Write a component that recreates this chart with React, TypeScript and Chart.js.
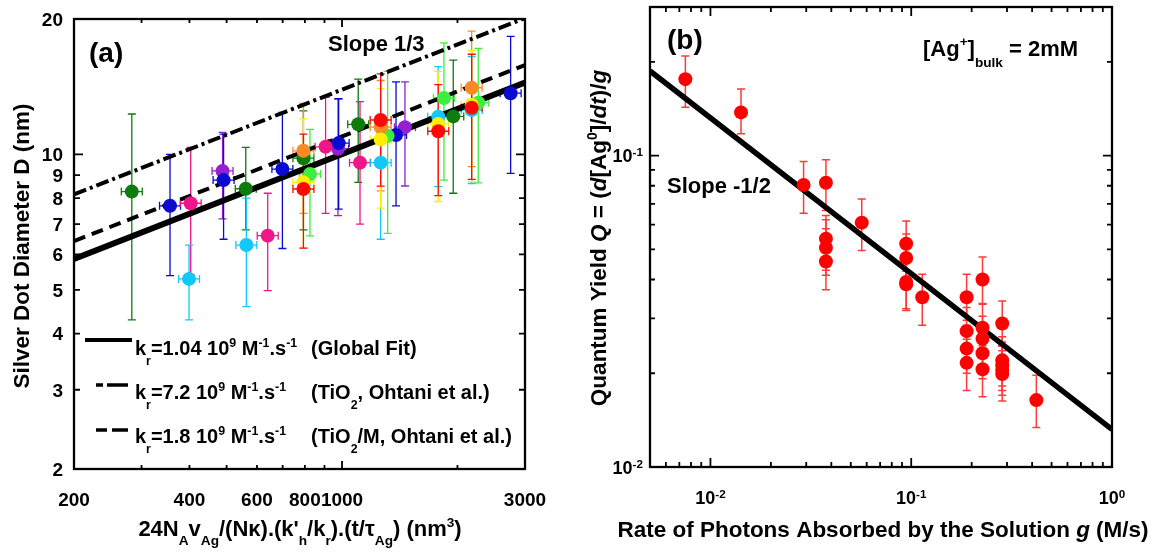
import React, { useEffect, useRef } from 'react';
import Chart from 'chart.js/auto';

// ---------------- Panel (a) data ----------------
const aXTicks = [200, 300, 400, 500, 600, 700, 800, 900, 1000, 2000, 3000];
const aXTickLabels = ['200', '', '400', '', '600', '', '800', '', '1000', '', '3000'];
const aXMajor = [1000];
const aYTicks = [2, 3, 4, 5, 6, 7, 8, 9, 10, 20];
const aYTickLabels = ['2', '3', '4', '5', '6', '7', '8', '9', '10', '20'];
const aYMajor = [10];

const aLineX = [200, 3000];
const aFitGlobal = [5.86, 14.45];
const aFitOhtani = [8.15, 20.1];
const aFitOhtaniM = [6.42, 15.8];

const aRedX = [793, 1261, 1782, 2178];
const aRedY = [8.38, 11.93, 11.26, 12.7];
const aRedLo = [6.19, 8.5, 8.1, 8.8];
const aRedHi = [11.1, 15.1, 14.3, 16.7];

const aYellowX = [793, 1261, 1782, 2178];
const aYellowY = [8.67, 10.8, 11.69, 12.88];
const aYellowLo = [6.2, 7.6, 7.86, 8.7];
const aYellowHi = [12.0, 14.0, 15.3, 17.0];

const aOrangeX = [793, 1261, 2178];
const aOrangeY = [10.19, 11.5, 14.07];
const aOrangeLo = [7.4, 8.3, 9.4];
const aOrangeHi = [12.99, 14.6, 18.8];

const aLightGreenX = [825, 1315, 1844, 2266];
const aLightGreenY = [9.05, 11.0, 13.35, 13.03];
const aLightGreenLo = [6.59, 6.68, 8.77, 8.65];
const aLightGreenHi = [11.37, 15.3, 17.7, 17.2];

const aCyanX = [399, 563, 1261, 1782, 2178];
const aCyanY = [5.29, 6.29, 9.59, 12.13, 12.55];
const aCyanLo = [4.29, 4.59, 6.48, 8.48, 8.62];
const aCyanHi = [6.29, 8.0, 12.2, 15.67, 16.5];

const aPinkX = [403, 640, 906, 1114];
const aPinkY = [7.79, 6.6, 10.4, 9.59];
const aPinkLo = [5.4, 4.98, 7.4, 7.0];
const aPinkHi = [10.37, 8.2, 13.4, 13.1];

const aBlueX = [356, 491, 699, 980, 1383, 2752];
const aBlueY = [7.69, 8.77, 9.28, 10.6, 11.05, 13.68];
const aBlueLo = [5.38, 6.48, 6.18, 7.56, 7.69, 9.08];
const aBlueHi = [10.0, 11.1, 12.4, 13.3, 14.5, 18.3];

const aPurpleX = [488, 976, 1459];
const aPurpleY = [9.19, 10.3, 11.5];
const aPurpleLo = [7.19, 7.31, 8.51];
const aPurpleHi = [11.2, 13.3, 14.5];

const aDarkGreenX = [283, 561, 793, 1102, 1950];
const aDarkGreenY = [8.27, 8.39, 9.81, 11.67, 12.15];
const aDarkGreenLo = [4.29, 6.8, 6.8, 8.67, 8.2];
const aDarkGreenHi = [12.3, 10.37, 12.5, 14.7, 16.2];

const aXErrFrac = 0.065;

// ---------------- Panel (b) data ----------------
const bXTicks = [0.005, 0.006, 0.007, 0.008, 0.009, 0.01, 0.02, 0.03, 0.04, 0.05, 0.06, 0.07, 0.08, 0.09, 0.1,
  0.2, 0.3, 0.4, 0.5, 0.6, 0.7, 0.8, 0.9, 1];
const bXMajor = [0.01, 0.1, 1];
const bXMajorExp = ['-2', '-1', '0'];
const bYTicks = [0.01, 0.02, 0.03, 0.04, 0.05, 0.06, 0.07, 0.08, 0.09, 0.1, 0.2, 0.3];
const bYMajor = [0.01, 0.1];
const bYMajorExp = ['-2', '-1'];

const bLineG = [0.005, 1];
const bLineQ = [0.187, 0.0132];

const bG = [0.0075, 0.0142, 0.0291, 0.0376, 0.0376, 0.0376, 0.0376, 0.0567, 0.0944, 0.0944, 0.0944, 0.0944,
  0.1135, 0.1888, 0.1888, 0.1888, 0.1888, 0.2265, 0.2265, 0.2265, 0.2265, 0.2265, 0.284, 0.284, 0.284, 0.284,
  0.284, 0.42];
const bQ = [0.176, 0.1376, 0.0805, 0.0818, 0.0541, 0.0506, 0.0457, 0.0609, 0.0521, 0.0469, 0.0393, 0.0386,
  0.0351, 0.0351, 0.0273, 0.024, 0.0216, 0.04, 0.028, 0.0258, 0.0232, 0.0206, 0.0289, 0.022, 0.0212, 0.0205,
  0.0199, 0.0164];
const bQHi = [0.209, 0.1636, 0.0957, 0.0969, 0.0642, 0.0622, 0.0582, 0.0726, 0.0616, 0.056, 0.047, 0.046,
  0.0416, 0.0416, 0.0325, 0.0285, 0.0257, 0.0472, 0.0335, 0.0305, 0.0276, 0.0245, 0.0341, 0.0262, 0.0252,
  0.0244, 0.0236, 0.0197];
const bQLo = [0.143, 0.1176, 0.0653, 0.0666, 0.0428, 0.0413, 0.0371, 0.0496, 0.0425, 0.0385, 0.0322, 0.0318,
  0.0285, 0.0296, 0.0232, 0.02, 0.0176, 0.0333, 0.0232, 0.0213, 0.0192, 0.0168, 0.0245, 0.0182, 0.0176,
  0.017, 0.0163, 0.0134];

// ---------------- text helpers ----------------
const FONT = '"Liberation Sans", Arial, Helvetica, sans-serif';
type Seg = { t: string; s?: 'sub' | 'sup'; i?: boolean };
type RichOpt = { small?: number; subDy?: number; supDy?: number };

function segFont(size: number, seg: Seg, o: RichOpt) {
  const sz = seg.s ? size * (o.small ?? 0.62) : size;
  return `${seg.i ? 'italic ' : ''}bold ${sz}px ${FONT}`;
}
function richWidth(ctx: any, segs: Seg[], size: number, o: RichOpt = {}) {
  let w = 0;
  for (const sg of segs) {
    ctx.font = segFont(size, sg, o);
    w += ctx.measureText(sg.t).width;
  }
  return w;
}
function drawRich(ctx: any, segs: Seg[], x: number, y: number, size: number, align = 'left', o: RichOpt = {}) {
  const w = richWidth(ctx, segs, size, o);
  let cx = align === 'center' ? x - w / 2 : align === 'right' ? x - w : x;
  ctx.textAlign = 'left';
  ctx.textBaseline = 'alphabetic';
  ctx.fillStyle = '#000';
  for (const sg of segs) {
    ctx.font = segFont(size, sg, o);
    const dy = sg.s === 'sup' ? -size * (o.supDy ?? 0.42) : sg.s === 'sub' ? size * (o.subDy ?? 0.45) : 0;
    ctx.fillText(sg.t, cx, y + dy);
    cx += ctx.measureText(sg.t).width;
  }
}
function drawRotated(ctx: any, segs: Seg[], cx: number, cy: number, size: number, o: RichOpt = {}) {
  ctx.save();
  ctx.translate(cx, cy);
  ctx.rotate(-Math.PI / 2);
  drawRich(ctx, segs, 0, size * 0.36, size, 'center', o);
  ctx.restore();
}

function drawFrame(chart: any, xTicks: number[], xMajor: number[], yTicks: number[], yMajor: number[],
  xLen: number[], yLen: number[]) {
  const { ctx, chartArea: a } = chart;
  const xs = chart.scales.x, ys = chart.scales.y;
  ctx.save();
  ctx.strokeStyle = '#000';
  ctx.lineWidth = 1.8;
  ctx.beginPath();
  for (const v of xTicks) {
    const p = xs.getPixelForValue(v);
    const l = xMajor.includes(v) ? xLen[0] : xLen[1];
    ctx.moveTo(p, a.bottom); ctx.lineTo(p, a.bottom - l);
    ctx.moveTo(p, a.top); ctx.lineTo(p, a.top + l);
  }
  for (const v of yTicks) {
    const p = ys.getPixelForValue(v);
    const l = yMajor.includes(v) ? yLen[0] : yLen[1];
    ctx.moveTo(a.left, p); ctx.lineTo(a.left + l, p);
    ctx.moveTo(a.right, p); ctx.lineTo(a.right - l, p);
  }
  ctx.stroke();
  ctx.lineWidth = 2.3;
  ctx.strokeRect(a.left, a.top, a.right - a.left, a.bottom - a.top);
  ctx.restore();
}

const errorBars = {
  id: 'errorBars',
  beforeDatasetsDraw(chart: any) {
    const { ctx } = chart;
    const xs = chart.scales.x, ys = chart.scales.y;
    const sets = chart.data.datasets as any[];
    ctx.save();
    for (let d = sets.length - 1; d >= 0; d--) {
      const ds = sets[d];
      if (!ds.errLo) continue;
      ctx.strokeStyle = ds.errColor;
      ctx.lineWidth = ds.errWidth;
      ds.data.forEach((pt: any, i: number) => {
        const px = xs.getPixelForValue(pt.x);
        const py = ys.getPixelForValue(pt.y);
        const lo = ys.getPixelForValue(ds.errLo[i]);
        const hi = ys.getPixelForValue(ds.errHi[i]);
        const c = ds.errCap;
        ctx.beginPath();
        ctx.moveTo(px, lo); ctx.lineTo(px, hi);
        ctx.moveTo(px - c, lo); ctx.lineTo(px + c, lo);
        ctx.moveTo(px - c, hi); ctx.lineTo(px + c, hi);
        if (ds.xErrFrac) {
          const xl = xs.getPixelForValue(pt.x / (1 + ds.xErrFrac));
          const xr = xs.getPixelForValue(pt.x * (1 + ds.xErrFrac));
          ctx.moveTo(xl, py); ctx.lineTo(xr, py);
          ctx.moveTo(xl, py - c); ctx.lineTo(xl, py + c);
          ctx.moveTo(xr, py - c); ctx.lineTo(xr, py + c);
        }
        ctx.stroke();
      });
    }
    ctx.restore();
  },
};

// ---------------- chart builders ----------------
function pts(xs: number[], ys: number[]) {
  return xs.map((x, i) => ({ x, y: ys[i] }));
}

function makeChartA(canvas: HTMLCanvasElement) {
  const series = [
    { x: aRedX, y: aRedY, lo: aRedLo, hi: aRedHi, color: '#ff0808' },
    { x: aYellowX, y: aYellowY, lo: aYellowLo, hi: aYellowHi, color: '#ffee00' },
    { x: aOrangeX, y: aOrangeY, lo: aOrangeLo, hi: aOrangeHi, color: '#fb8a26' },
    { x: aLightGreenX, y: aLightGreenY, lo: aLightGreenLo, hi: aLightGreenHi, color: '#3cef3c' },
    { x: aCyanX, y: aCyanY, lo: aCyanLo, hi: aCyanHi, color: '#12c8f8' },
    { x: aPinkX, y: aPinkY, lo: aPinkLo, hi: aPinkHi, color: '#f01689' },
    { x: aBlueX, y: aBlueY, lo: aBlueLo, hi: aBlueHi, color: '#0a0ad0' },
    { x: aPurpleX, y: aPurpleY, lo: aPurpleLo, hi: aPurpleHi, color: '#9420d2' },
    { x: aDarkGreenX, y: aDarkGreenY, lo: aDarkGreenLo, hi: aDarkGreenHi, color: '#0c7c0c' },
  ];
  const pointSets = series.map((s, k) => ({
    data: pts(s.x, s.y),
    showLine: false,
    pointRadius: 7,
    pointHoverRadius: 7,
    pointBackgroundColor: s.color,
    pointBorderWidth: 0,
    borderColor: s.color,
    errLo: s.lo, errHi: s.hi, errColor: s.color, errWidth: 1.3, errCap: 4, xErrFrac: aXErrFrac,
    order: k,
  }));
  const lineBase = { showLine: true, pointRadius: 0, borderColor: '#000', fill: false, clip: 0, borderCapStyle: 'butt' };
  const lineSets = [
    { ...lineBase, data: pts(aLineX, aFitGlobal), borderWidth: 6, order: 20 },
    { ...lineBase, data: pts(aLineX, aFitOhtani), borderWidth: 4, borderDash: [13, 4, 3, 4], order: 21 },
    { ...lineBase, data: pts(aLineX, aFitOhtaniM), borderWidth: 4, borderDash: [12, 7], order: 22 },
  ];

  const decor = {
    id: 'decorA',
    afterDraw(chart: any) {
      const { ctx } = chart;
      const xs = chart.scales.x, ys = chart.scales.y;
      drawFrame(chart, aXTicks, aXMajor, aYTicks, aYMajor, [8, 4], [9, 6]);
      // tick labels
      aXTicks.forEach((v, i) => {
        if (aXTickLabels[i]) drawRich(ctx, [{ t: aXTickLabels[i] }], xs.getPixelForValue(v), 505.5, 19, 'center');
      });
      aYTicks.forEach((v, i) => {
        drawRich(ctx, [{ t: aYTickLabels[i] }], 63, ys.getPixelForValue(v) + 6.8, 19, 'right');
      });
      // axis titles
      drawRich(ctx, [{ t: '24N' }, { t: 'A', s: 'sub' }, { t: 'v' }, { t: 'Ag', s: 'sub' }, { t: '/(Nκ).(k\'' },
        { t: 'h', s: 'sub' }, { t: '/k' }, { t: 'r', s: 'sub' }, { t: ').(t/τ' }, { t: 'Ag', s: 'sub' },
        { t: ') (nm' }, { t: '3', s: 'sup' }, { t: ')' }], 300, 536, 22, 'center', { subDy: 0.4 });
      drawRotated(ctx, [{ t: 'Silver Dot Diameter D (nm)' }], 21, 246, 22.5);
      // annotations
      drawRich(ctx, [{ t: '(a)' }], 89, 61.5, 28, 'left');
      drawRich(ctx, [{ t: 'Slope 1/3' }], 328, 51, 22, 'left');
      // legend
      ctx.save();
      ctx.strokeStyle = '#000';
      ctx.lineCap = 'butt';
      ctx.lineWidth = 4;
      ctx.beginPath(); ctx.moveTo(85, 340); ctx.lineTo(132, 340); ctx.stroke();
      ctx.lineWidth = 3.5;
      ctx.beginPath();
      ctx.moveTo(96, 385); ctx.lineTo(103, 385);
      ctx.moveTo(107, 385); ctx.lineTo(128, 385);
      ctx.moveTo(96, 430); ctx.lineTo(107, 430);
      ctx.moveTo(112, 430); ctx.lineTo(128, 430);
      ctx.stroke();
      ctx.restore();
      const lo: RichOpt = { subDy: 0.5, supDy: 0.4 };
      const kPart = (val: string): Seg[] => [{ t: 'k' }, { t: 'r', s: 'sub' }, { t: '=' + val + ' 10' }, { t: '9', s: 'sup' },
        { t: ' M' }, { t: '-1', s: 'sup' }, { t: '.s' }, { t: '-1', s: 'sup' }];
      drawRich(ctx, kPart('1.04'), 135, 355, 20, 'left', lo);
      drawRich(ctx, [{ t: '(Global Fit)' }], 311, 355, 20, 'left', lo);
      drawRich(ctx, kPart('7.2'), 135, 399, 20, 'left', lo);
      drawRich(ctx, [{ t: '(TiO' }, { t: '2', s: 'sub' }, { t: ', Ohtani et al.)' }], 311, 399, 20, 'left', lo);
      drawRich(ctx, kPart('1.8'), 135, 443, 20, 'left', lo);
      drawRich(ctx, [{ t: '(TiO' }, { t: '2', s: 'sub' }, { t: '/M, Ohtani et al.)' }], 311, 443, 20, 'left', lo);
    },
  };

  return new Chart(canvas, {
    type: 'scatter',
    data: { datasets: [...pointSets, ...lineSets] as any },
    options: {
      animation: false,
      responsive: false,
      events: [],
      layout: { padding: { left: 74, top: 19, right: 53, bottom: 84 } },
      scales: {
        x: { type: 'logarithmic', min: 200, max: 3000, display: false },
        y: { type: 'logarithmic', min: 2, max: 20, display: false },
      },
      plugins: { legend: { display: false }, tooltip: { enabled: false } },
    } as any,
    plugins: [errorBars, decor],
  });
}

function makeChartB(canvas: HTMLCanvasElement) {
  const OFF = 578;
  const pointSet = {
    data: pts(bG, bQ),
    showLine: false,
    pointRadius: 7,
    pointHoverRadius: 7,
    pointBackgroundColor: '#ff0000',
    pointBorderWidth: 0,
    borderColor: '#ff0000',
    errLo: bQLo, errHi: bQHi, errColor: '#ff3a3a', errWidth: 1.5, errCap: 4,
    order: 0,
  };
  const lineSet = {
    data: pts(bLineG, bLineQ), showLine: true, pointRadius: 0, borderColor: '#000', borderWidth: 5.5,
    fill: false, clip: 0, order: 10,
  };
  const decor = {
    id: 'decorB',
    afterDraw(chart: any) {
      const { ctx } = chart;
      const xs = chart.scales.x, ys = chart.scales.y;
      drawFrame(chart, bXTicks, bXMajor, bYTicks, bYMajor, [9, 5], [9, 5]);
      const to: RichOpt = { small: 0.65, supDy: 0.33 };
      bXMajor.forEach((v, i) => {
        drawRich(ctx, [{ t: '10' }, { t: bXMajorExp[i], s: 'sup' }], xs.getPixelForValue(v), 503.5, 18, 'center', to);
      });
      bYMajor.forEach((v, i) => {
        drawRich(ctx, [{ t: '10' }, { t: bYMajorExp[i], s: 'sup' }], 643 - OFF, ys.getPixelForValue(v) + 6.5, 18, 'right', to);
      });
      drawRich(ctx, [{ t: 'Rate of Photons Absorbed by the Solution ' }, { t: 'g', i: true }, { t: ' (M/s)' }],
        883 - OFF, 537, 22.5, 'center');
      drawRotated(ctx, [{ t: 'Quantum Yield ' }, { t: 'Q', i: true }, { t: ' = (' }, { t: 'd', i: true }, { t: '[Ag' },
        { t: '0', s: 'sup' }, { t: ']/' }, { t: 'dt', i: true }, { t: ')/' }, { t: 'g', i: true }], 598 - OFF, 238, 22.5);
      drawRich(ctx, [{ t: '(b)' }], 667 - OFF, 49, 28, 'left');
      drawRich(ctx, [{ t: '[Ag' }, { t: '+', s: 'sup' }, { t: ']' }, { t: 'bulk', s: 'sub' }, { t: ' = 2mM' }],
        923 - OFF, 56, 22, 'left', { subDy: 0.5, supDy: 0.45 });
      drawRich(ctx, [{ t: 'Slope -1/2' }], 667 - OFF, 193, 22, 'left');
    },
  };
  return new Chart(canvas, {
    type: 'scatter',
    data: { datasets: [pointSet, lineSet] as any },
    options: {
      animation: false,
      responsive: false,
      events: [],
      layout: { padding: { left: 650 - OFF, top: 7, right: 580 - (1112 - OFF), bottom: 86 } },
      scales: {
        x: { type: 'logarithmic', min: 0.005, max: 1, display: false },
        y: { type: 'logarithmic', min: 0.01, max: 0.3, display: false },
      },
      plugins: { legend: { display: false }, tooltip: { enabled: false } },
    } as any,
    plugins: [errorBars, decor],
  });
}

export default function App() {
  const refA = useRef<HTMLCanvasElement>(null);
  const refB = useRef<HTMLCanvasElement>(null);
  useEffect(() => {
    const ca = makeChartA(refA.current as HTMLCanvasElement);
    const cb = makeChartB(refB.current as HTMLCanvasElement);
    return () => {
      ca.destroy();
      cb.destroy();
    };
  }, []);
  return (
    <div style={{ position: 'absolute', left: 0, top: 0, width: 1158, height: 553, background: '#fff', overflow: 'hidden' }}>
      <canvas ref={refA} width={578} height={553} style={{ position: 'absolute', left: 0, top: 0 }} />
      <canvas ref={refB} width={580} height={553} style={{ position: 'absolute', left: 578, top: 0 }} />
    </div>
  );
}
